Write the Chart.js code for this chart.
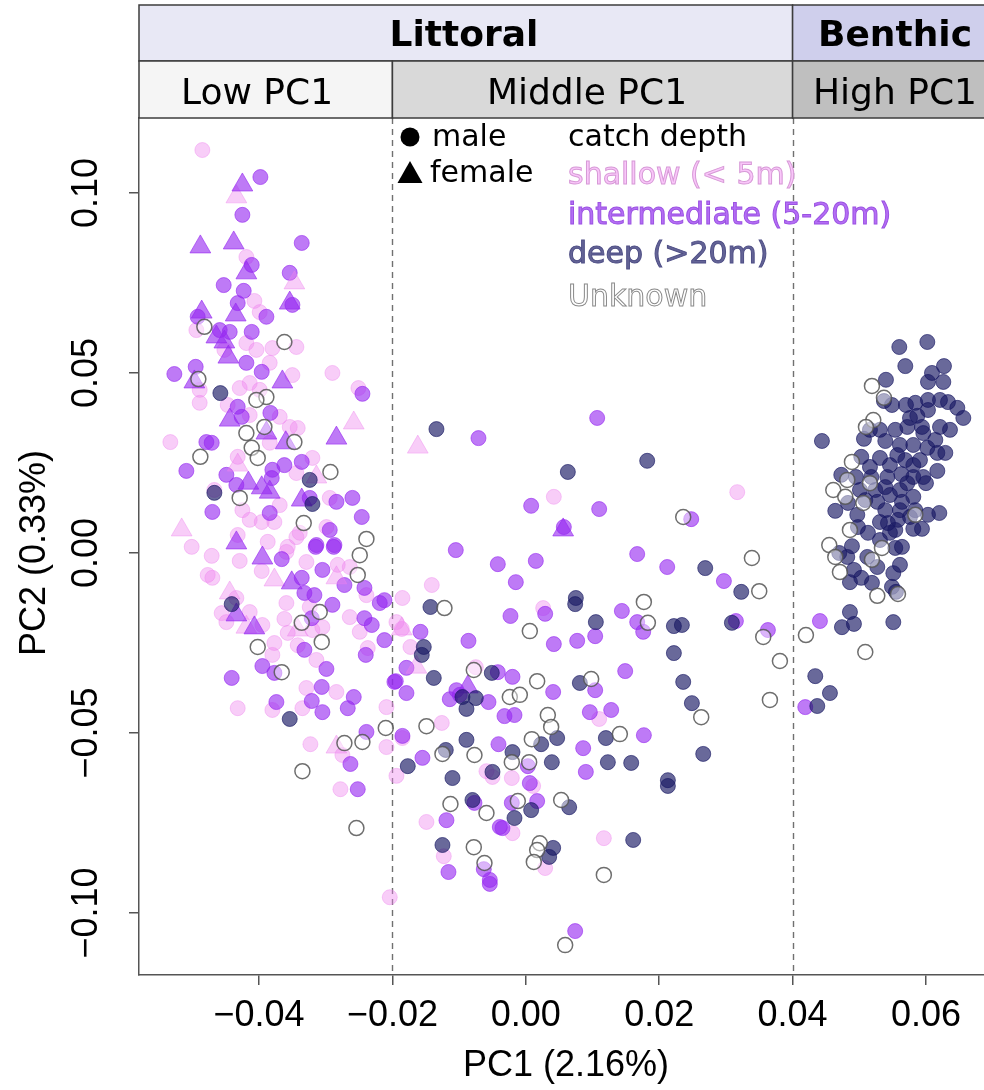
<!DOCTYPE html>
<html><head><meta charset="utf-8">
<script src="https://cdn.jsdelivr.net/npm/chart.js@4/dist/chart.umd.min.js"></script>
<style>html,body{margin:0;padding:0;background:#fff;}canvas{display:block;}</style>
</head><body>
<canvas id="c" width="984" height="1090"></canvas>
<script>
// ---- tick labels / groups ----
const xTicks = [-0.04, -0.02, 0.00, 0.02, 0.04, 0.06];
const yTicks = [-0.10, -0.05, 0.00, 0.05, 0.10];
const xTitle = 'PC1 (2.16%)';
const yTitle = 'PC2 (0.33%)';
const groupBreaks = [-0.02, 0.04];
const habitatLabels = ['Littoral', 'Benthic'];
const pcGroupLabels = ['Low PC1', 'Middle PC1', 'High PC1'];
const sexLabels = ['male', 'female'];
const depthLegend = ['catch depth', 'shallow (< 5m)', 'intermediate (5-20m)', 'deep (>20m)', 'Unknown'];

// ---- series values [PC1, PC2] ----
const shallowMale = [
[-0.0485,0.1119],[-0.0419,0.0822],[-0.0407,0.0700],[-0.0399,0.0669],[-0.0494,0.0619],[-0.0419,0.0583],[-0.0344,0.0572],[-0.0380,0.0569],[-0.0404,0.0564],[-0.0452,0.0564],
[-0.0384,0.0528],[-0.0350,0.0494],[-0.0290,0.0500],[-0.0489,0.0453],[-0.0489,0.0417],[-0.0429,0.0458],[-0.0414,0.0472],[-0.0399,0.0453],[-0.0251,0.0458],[-0.0447,0.0411],
[-0.0414,0.0383],[-0.0369,0.0378],[-0.0354,0.0350],[-0.0342,0.0347],[-0.0533,0.0308],[-0.0384,0.0306],[-0.0432,0.0267],[-0.0320,0.0264],[-0.0344,0.0222],[-0.0467,0.0175],
[-0.0294,0.0153],[-0.0369,0.0133],[-0.0425,0.0119],[-0.0414,0.0092],[-0.0396,0.0086],[-0.0377,0.0086],[-0.0501,0.0017],[-0.0432,0.0050],[-0.0387,0.0031],[-0.0344,0.0044],
[-0.0299,0.0072],[-0.0357,0.0017],[-0.0339,0.0056],[-0.0471,-0.0008],[-0.0429,-0.0022],[-0.0396,-0.0050],[-0.0359,0.0003],[-0.0329,-0.0025],[-0.0282,-0.0033],[-0.0264,-0.0039],
[-0.0477,-0.0061],[-0.0470,-0.0069],[-0.0239,-0.0117],[-0.0434,-0.0125],[-0.0456,-0.0167],[-0.0449,-0.0192],[-0.0414,-0.0164],[-0.0395,-0.0200],[-0.0359,-0.0139],[-0.0324,-0.0150],
[-0.0305,-0.0206],[-0.0362,-0.0183],[-0.0320,-0.0214],[-0.0357,-0.0222],[-0.0342,-0.0256],[-0.0264,-0.0178],[-0.0249,-0.0219],[-0.0237,-0.0264],[-0.0377,-0.0250],[-0.0380,-0.0283],
[-0.0314,-0.0297],[-0.0329,-0.0375],[-0.0284,-0.0386],[-0.0380,-0.0436],[-0.0335,-0.0431],[-0.0432,-0.0431],[-0.0209,-0.0428],[-0.0275,-0.0561],[-0.0323,-0.0531],[-0.0209,-0.0539],
[-0.0278,-0.0656],[0.0042,0.0156],[0.0317,0.0169],[-0.0141,-0.0089],[-0.0185,-0.0125],[0.0026,-0.0153],[-0.0194,-0.0192],[-0.0186,-0.0211],[-0.0173,-0.0261],[-0.0075,-0.0317],
[-0.0185,-0.0514],[-0.0126,-0.0472],[0.0110,-0.0461],[-0.0194,-0.0619],[-0.0059,-0.0606],[-0.0050,-0.0622],[-0.0021,-0.0625],[0.0011,-0.0647],[-0.0020,-0.0778],[-0.0149,-0.0747],
[-0.0123,-0.0842],[0.0029,-0.0875],[0.0117,-0.0792],[-0.0204,-0.0956]
];
const shallowFemale = [
[-0.0434,0.0989],[-0.0347,0.0750],[-0.0258,0.0361],[-0.0432,0.0244],[-0.0314,0.0211],[-0.0516,0.0064],[-0.0377,-0.0075],[-0.0284,-0.0069],[-0.0444,-0.0111],[-0.0419,-0.0206],
[-0.0342,-0.0214],[-0.0284,-0.0539],[-0.0162,0.0294],[-0.0186,-0.0211],[-0.0164,-0.0317]
];
const intermediateMale = [
[-0.0398,0.1044],[-0.0425,0.0939],[-0.0336,0.0861],[-0.0411,0.0800],[-0.0354,0.0778],[-0.0453,0.0744],[-0.0423,0.0728],[-0.0432,0.0694],[-0.0350,0.0689],[-0.0389,0.0656],
[-0.0492,0.0656],[-0.0459,0.0619],[-0.0444,0.0614],[-0.0411,0.0614],[-0.0419,0.0528],[-0.0527,0.0497],[-0.0495,0.0517],[-0.0396,0.0503],[-0.0245,0.0442],[-0.0432,0.0406],
[-0.0383,0.0389],[-0.0426,0.0378],[-0.0479,0.0308],[-0.0471,0.0306],[-0.0509,0.0228],[-0.0449,0.0217],[-0.0336,0.0253],[-0.0362,0.0244],[-0.0380,0.0231],[-0.0434,0.0189],
[-0.0381,0.0208],[-0.0324,0.0153],[-0.0284,0.0142],[-0.0260,0.0153],[-0.0246,0.0100],[-0.0470,0.0114],[-0.0384,0.0111],[-0.0294,0.0064],[-0.0314,0.0022],[-0.0287,0.0022],
[-0.0366,-0.0017],[-0.0315,0.0017],[-0.0288,0.0017],[-0.0305,-0.0047],[-0.0336,-0.0069],[-0.0272,-0.0089],[-0.0242,-0.0097],[-0.0332,-0.0111],[-0.0317,-0.0117],[-0.0290,-0.0144],
[-0.0321,-0.0181],[-0.0332,-0.0269],[-0.0242,-0.0181],[-0.0231,-0.0200],[-0.0212,-0.0242],[-0.0240,-0.0283],[-0.0219,-0.0139],[-0.0212,-0.0131],[-0.0395,-0.0314],[-0.0377,-0.0333],
[-0.0299,-0.0322],[-0.0306,-0.0372],[-0.0441,-0.0347],[-0.0374,-0.0414],[-0.0321,-0.0411],[-0.0305,-0.0442],[-0.0267,-0.0431],[-0.0258,-0.0400],[-0.0197,-0.0358],[-0.0239,-0.0497],
[-0.0263,-0.0586],[-0.0252,-0.0656],[-0.0071,0.0319],[0.0107,0.0375],[0.0008,0.0131],[0.0110,0.0122],[0.0057,0.0072],[0.0248,0.0094],[-0.0105,0.0008],[-0.0042,-0.0031],
[0.0015,-0.0022],[-0.0015,-0.0081],[0.0167,-0.0003],[0.0212,-0.0039],[0.0297,-0.0078],[0.0029,-0.0169],[-0.0023,-0.0175],[0.0144,-0.0161],[0.0167,-0.0192],[0.0315,-0.0189],
[0.0363,-0.0214],[0.0176,-0.0219],[0.0149,-0.0328],[0.0104,-0.0231],[0.0077,-0.0244],[0.0042,-0.0253],[-0.0086,-0.0244],[-0.0158,-0.0219],[-0.0179,-0.0319],[-0.0195,-0.0356],
[-0.0042,-0.0331],[-0.0020,-0.0344],[0.0104,-0.0381],[0.0041,-0.0386],[-0.0179,-0.0389],[-0.0104,-0.0381],[-0.0114,-0.0406],[-0.0056,-0.0414],[-0.0185,-0.0508],[-0.0032,-0.0453],
[-0.0017,-0.0450],[0.0096,-0.0442],[0.0128,-0.0436],[-0.0155,-0.0569],[-0.0041,-0.0531],[0.0086,-0.0542],[0.0177,-0.0506],[0.0090,-0.0608],[0.0003,-0.0592],[0.0006,-0.0639],
[-0.0077,-0.0694],[-0.0021,-0.0694],[0.0017,-0.0689],[-0.0039,-0.0761],[-0.0035,-0.0764],[-0.0119,-0.0742],[-0.0116,-0.0886],[-0.0063,-0.0878],[-0.0054,-0.0908],[-0.0054,-0.0919],
[0.0074,-0.1050],[0.0441,-0.0189],[0.0419,-0.0428],[-0.0099,-0.0394]
];
const intermediateFemale = [
[-0.0425,0.1022],[-0.0488,0.0850],[-0.0438,0.0861],[-0.0419,0.0778],[-0.0354,0.0694],[-0.0486,0.0669],[-0.0435,0.0661],[-0.0464,0.0600],[-0.0452,0.0586],[-0.0446,0.0544],
[-0.0497,0.0475],[-0.0365,0.0475],[-0.0444,0.0369],[-0.0389,0.0333],[-0.0360,0.0306],[-0.0284,0.0319],[-0.0416,0.0194],[-0.0396,0.0181],[-0.0384,0.0169],[-0.0336,0.0147],
[-0.0434,0.0028],[-0.0395,-0.0014],[-0.0351,-0.0083],[-0.0434,-0.0172],[-0.0407,-0.0208],[0.0056,0.0064],[-0.0087,-0.0372]
];
const deepMale = [
[-0.0458,0.0444],[-0.0324,0.0203],[-0.0467,0.0167],[-0.0320,0.0136],[-0.0441,-0.0142],[-0.0354,-0.0461],[-0.0134,0.0344],[0.0182,0.0256],[0.0063,0.0225],[0.0269,-0.0042],
[0.0323,-0.0108],[-0.0143,-0.0150],[0.0075,-0.0125],[0.0074,-0.0142],[0.0105,-0.0192],[0.0222,-0.0203],[0.0234,-0.0200],[0.0309,-0.0194],[0.0222,-0.0278],[0.0236,-0.0358],
[-0.0153,-0.0261],[-0.0156,-0.0283],[-0.0138,-0.0347],[-0.0051,-0.0333],[0.0081,-0.0361],[-0.0095,-0.0400],[-0.0075,-0.0403],[-0.0089,-0.0433],[0.0249,-0.0417],[-0.0089,-0.0519],
[-0.0120,-0.0547],[-0.0177,-0.0592],[-0.0020,-0.0553],[0.0023,-0.0531],[0.0047,-0.0514],[0.0120,-0.0514],[0.0039,-0.0581],[0.0123,-0.0581],[0.0158,-0.0583],[0.0266,-0.0558],
[-0.0050,-0.0608],[-0.0110,-0.0625],[0.0213,-0.0631],[0.0213,-0.0647],[-0.0080,-0.0686],[0.0008,-0.0714],[0.0065,-0.0706],[-0.0017,-0.0736],[-0.0125,-0.0811],[0.0041,-0.0819],
[0.0035,-0.0844],[0.0161,-0.0797],[0.0434,-0.0342],[0.0456,-0.0389],[0.0437,-0.0425],
[0.0560,0.0572],[0.0602,0.0586],[0.0569,0.0519],[0.0627,0.0519],[0.0609,0.0500],[0.0603,0.0475],[0.0626,0.0475],[0.0540,0.0481],[0.0537,0.0422],[0.0549,0.0411],
[0.0570,0.0411],[0.0584,0.0417],[0.0603,0.0425],[0.0621,0.0425],[0.0633,0.0419],[0.0647,0.0403],[0.0656,0.0375],[0.0576,0.0375],[0.0603,0.0397],[0.0587,0.0381],
[0.0621,0.0350],[0.0572,0.0350],[0.0594,0.0350],[0.0596,0.0333],[0.0516,0.0342],[0.0444,0.0311],[0.0507,0.0317],[0.0539,0.0311],[0.0561,0.0300],[0.0581,0.0300],
[0.0602,0.0292],[0.0617,0.0278],[0.0629,0.0278],[0.0503,0.0267],[0.0531,0.0264],[0.0557,0.0272],[0.0581,0.0244],[0.0617,0.0228],[0.0516,0.0239],[0.0473,0.0217],
[0.0495,0.0211],[0.0518,0.0211],[0.0542,0.0211],[0.0563,0.0219],[0.0581,0.0211],[0.0596,0.0211],[0.0600,0.0194],[0.0539,0.0183],[0.0561,0.0175],[0.0572,0.0194],
[0.0483,0.0139],[0.0527,0.0142],[0.0564,0.0142],[0.0581,0.0156],[0.0546,0.0161],[0.0464,0.0117],[0.0497,0.0106],[0.0539,0.0119],[0.0561,0.0119],[0.0576,0.0100],
[0.0603,0.0106],[0.0620,0.0111],[0.0498,0.0072],[0.0531,0.0086],[0.0543,0.0083],[0.0558,0.0092],[0.0581,0.0067],[0.0594,0.0067],[0.0513,0.0056],[0.0546,0.0056],
[0.0489,0.0019],[0.0531,0.0036],[0.0554,0.0014],[0.0564,0.0017],[0.0470,0.0000],[0.0482,-0.0011],[0.0512,-0.0011],[0.0561,-0.0033],[0.0492,-0.0047],[0.0527,-0.0039],
[0.0551,-0.0056],[0.0486,-0.0081],[0.0503,-0.0069],[0.0519,-0.0083],[0.0549,-0.0094],[0.0555,-0.0108],[0.0486,-0.0164],[0.0474,-0.0206],[0.0492,-0.0197],[0.0551,-0.0192],
[0.0554,0.0342],[0.0569,0.0258],[0.0546,0.0244],[0.0524,0.0175],[0.0591,0.0258],[0.0614,0.0314],[0.0636,0.0342],[0.0584,0.0119],[0.0509,0.0147],[0.0531,0.0342],
[0.0501,0.0175],[0.0554,0.0064]
];
const unknownDepth = [
[-0.0482,0.0628],[-0.0362,0.0586],[-0.0491,0.0483],[-0.0389,0.0433],[-0.0404,0.0425],[-0.0419,0.0333],[-0.0392,0.0350],[-0.0488,0.0267],[-0.0411,0.0292],[-0.0347,0.0308],
[-0.0402,0.0264],[-0.0293,0.0225],[-0.0429,0.0153],[-0.0333,0.0083],[-0.0239,0.0039],[-0.0249,-0.0006],[-0.0252,-0.0061],[-0.0309,-0.0164],[-0.0336,-0.0194],[-0.0306,-0.0247],
[-0.0402,-0.0261],[-0.0366,-0.0331],[-0.0210,-0.0486],[-0.0245,-0.0525],[-0.0272,-0.0528],[-0.0335,-0.0606],[-0.0254,-0.0764],[0.0236,0.0100],[0.0339,-0.0014],[0.0350,-0.0106],
[-0.0122,-0.0153],[0.0006,-0.0217],[0.0177,-0.0136],[0.0183,-0.0194],[0.0356,-0.0233],[0.0381,-0.0300],[-0.0078,-0.0325],[0.0017,-0.0356],[0.0098,-0.0350],[-0.0024,-0.0400],
[-0.0009,-0.0394],[0.0366,-0.0408],[0.0263,-0.0456],[-0.0149,-0.0481],[0.0033,-0.0450],[0.0038,-0.0483],[-0.0125,-0.0558],[-0.0077,-0.0561],[-0.0021,-0.0581],[0.0009,-0.0517],
[0.0141,-0.0503],[0.0005,-0.0581],[-0.0113,-0.0697],[-0.0059,-0.0722],[-0.0012,-0.0689],[0.0053,-0.0686],[-0.0078,-0.0817],[-0.0062,-0.0861],[0.0021,-0.0806],[0.0017,-0.0825],
[0.0012,-0.0858],[0.0117,-0.0894],[0.0059,-0.1089],[0.0420,-0.0228],[0.0509,-0.0275],[0.0519,0.0464],[0.0521,0.0369],[0.0510,0.0350],[0.0489,0.0253],[0.0482,0.0203],
[0.0516,0.0194],[0.0461,0.0175],[0.0479,0.0156],[0.0506,0.0139],[0.0584,0.0106],[0.0486,0.0064],[0.0455,0.0022],[0.0534,0.0014],[0.0464,-0.0011],[0.0519,-0.0019],
[0.0471,-0.0053],[0.0527,-0.0119],[0.0558,-0.0114],[0.0537,0.0431]
];

// ---- styles ----
const C_SHALLOW = 'rgba(238,130,238,0.40)';
const C_INTER = 'rgba(150,40,240,0.62)';
const C_DEEP = 'rgba(25,25,100,0.65)';
const SANS = '"Liberation Sans", Arial, Helvetica, sans-serif';
const DEJAVU = '"DejaVu Sans", sans-serif';

const toXY = arr => arr.map(p => ({x: p[0], y: p[1]}));
const fmt = v => (v < 0 ? '\u2212' : '') + Math.abs(v).toFixed(2);

function filled(label, data, color, style, r, order) {
  return {label, data: toXY(data), pointStyle: style, pointRadius: r,
    backgroundColor: color, borderColor: color, borderWidth: 1, order, showLine: false};
}

const decor = {
  id: 'decor',
  beforeDatasetsDraw(chart) {
    const {ctx, chartArea: ca, scales: {x}} = chart;
    ctx.save();
    ctx.strokeStyle = '#707070'; ctx.lineWidth = 1.4; ctx.setLineDash([6, 5]);
    groupBreaks.forEach(v => {
      const px = Math.round(x.getPixelForValue(v)) + 0.5;
      ctx.beginPath(); ctx.moveTo(px, ca.top); ctx.lineTo(px, ca.bottom); ctx.stroke();
    });
    ctx.restore();
  },
  afterDraw(chart) {
    const {ctx, chartArea: ca, scales: {x, y}} = chart;
    ctx.save();
    // strips
    const b1 = x.getPixelForValue(groupBreaks[0]);
    const b2 = x.getPixelForValue(groupBreaks[1]);
    const L = ca.left, R = ca.right + 16;
    const r1t = 5, r1b = 61, r2b = ca.top;
    const rect = (x0, y0, x1, y1, fill) => {
      ctx.fillStyle = fill; ctx.fillRect(x0, y0, x1 - x0, y1 - y0);
      ctx.strokeStyle = '#3c3c3c'; ctx.lineWidth = 1.5; ctx.strokeRect(x0, y0, x1 - x0, y1 - y0);
    };
    rect(L, r1t, b2, r1b, '#e8e8f5');
    rect(b2, r1t, R, r1b, '#cfcfec');
    rect(L, r1b, b1, r2b, '#f5f5f5');
    rect(b1, r1b, b2, r2b, '#d9d9d9');
    rect(b2, r1b, R, r2b, '#bfbfbf');
    ctx.fillStyle = '#000'; ctx.textAlign = 'center'; ctx.textBaseline = 'alphabetic';
    ctx.font = 'bold 36px ' + DEJAVU;
    ctx.fillText(habitatLabels[0], 464, 46);
    ctx.fillText(habitatLabels[1], 895, 46);
    ctx.font = '36px ' + DEJAVU;
    ctx.fillText(pcGroupLabels[0], 257, 104);
    ctx.fillText(pcGroupLabels[1], 587, 104);
    ctx.fillText(pcGroupLabels[2], 895, 104);

    // y tick labels (vertical, R style)
    ctx.font = '36px ' + SANS; ctx.textBaseline = 'middle'; ctx.textAlign = 'center';
    yTicks.forEach(v => {
      const py = y.getPixelForValue(v);
      ctx.save(); ctx.translate(87, py); ctx.rotate(-Math.PI / 2);
      ctx.fillText(fmt(v), 0, 0); ctx.restore();
    });
    // axis titles
    ctx.fillText(xTitle, 566, 1066);
    ctx.save(); ctx.translate(35, 553); ctx.rotate(-Math.PI / 2);
    ctx.fillText(yTitle, 0, 0); ctx.restore();

    // legend: sex
    ctx.fillStyle = '#000';
    ctx.beginPath(); ctx.arc(410, 137, 9.5, 0, Math.PI * 2); ctx.fill();
    ctx.beginPath(); ctx.moveTo(410, 161); ctx.lineTo(422.5, 183); ctx.lineTo(397.5, 183); ctx.closePath(); ctx.fill();
    ctx.font = '30px ' + DEJAVU; ctx.textAlign = 'left'; ctx.textBaseline = 'alphabetic';
    ctx.fillText(sexLabels[0], 432, 146);
    ctx.fillText(sexLabels[1], 430, 182);
    // legend: depth
    ctx.fillText(depthLegend[0], 568, 146);
    const items = [
      [depthLegend[1], 184, '#f9c6f9', '#d79ad7'],
      [depthLegend[2], 224, '#b56ef5', '#9b52e2'],
      [depthLegend[3], 263, '#646496', '#4f4f86'],
      [depthLegend[4], 306, '#ffffff', '#8a8a8a']
    ];
    ctx.lineWidth = 1;
    items.forEach(([t, by, fill, stroke]) => {
      ctx.fillStyle = fill; ctx.fillText(t, 568, by);
      ctx.strokeStyle = stroke; ctx.strokeText(t, 568, by);
    });
    ctx.restore();
  }
};

Chart.defaults.font.family = SANS;
new Chart(document.getElementById('c'), {
  type: 'scatter',
  data: {
    datasets: [
      {label: 'Unknown', data: toXY(unknownDepth), pointStyle: 'circle', pointRadius: 7.5,
        backgroundColor: 'rgba(255,255,255,0.45)', borderColor: 'rgba(85,85,85,0.85)', borderWidth: 1.5, order: 0},
      filled('deep male', deepMale, C_DEEP, 'circle', 7.5, 1),
      filled('intermediate female', intermediateFemale, C_INTER, 'triangle', 12, 2),
      filled('shallow female', shallowFemale, C_SHALLOW, 'triangle', 12, 3),
      filled('intermediate male', intermediateMale, C_INTER, 'circle', 7.5, 4),
      filled('shallow male', shallowMale, C_SHALLOW, 'circle', 7.5, 5)
    ]
  },
  options: {
    responsive: false,
    animation: false,
    events: [],
    layout: {autoPadding: false, padding: {top: 118, left: 0, right: 0, bottom: 0}},
    plugins: {legend: {display: false}, tooltip: {enabled: false}, title: {display: false}},
    scales: {
      x: {
        type: 'linear', position: 'bottom', min: -0.058, max: 0.0687,
        afterBuildTicks: s => { s.ticks = xTicks.map(v => ({value: v})); },
        afterFit: s => { s.height = 115; s.paddingLeft = 0; s.paddingRight = 0; },
        ticks: {color: '#000', font: {size: 36, family: SANS}, padding: 9, maxRotation: 0, autoSkip: false,
          callback: v => fmt(v)},
        grid: {display: true, drawOnChartArea: false, drawTicks: true, tickLength: 10, color: '#555', lineWidth: 1.5},
        border: {display: true, color: '#555', width: 1.5}
      },
      y: {
        type: 'linear', position: 'left', min: -0.1172, max: 0.1208,
        afterBuildTicks: s => { s.ticks = yTicks.map(v => ({value: v})); },
        afterFit: s => { s.width = 139; s.paddingTop = 0; s.paddingBottom = 0; },
        ticks: {display: false},
        grid: {display: true, drawOnChartArea: false, drawTicks: true, tickLength: 10, color: '#555', lineWidth: 1.5},
        border: {display: true, color: '#555', width: 1.5}
      }
    }
  },
  plugins: [decor]
});
</script>
</body></html>
